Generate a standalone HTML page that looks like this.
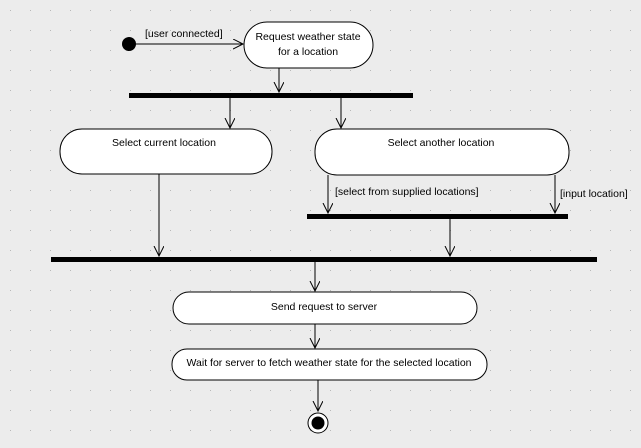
<!DOCTYPE html>
<html><head><style>body{margin:0;background:#ececec}</style></head><body>
<svg width="641" height="443" xmlns="http://www.w3.org/2000/svg" font-family="Liberation Sans, sans-serif" font-size="10.5">
<defs><pattern id="g" width="20" height="20" patternUnits="userSpaceOnUse"><rect x="10" y="10" width="1" height="1" fill="#b8b8b8"/></pattern>
<marker id="a" markerWidth="12" markerHeight="12" refX="10" refY="5" orient="auto" markerUnits="userSpaceOnUse"><path d="M0,0 L10,5 L0,10" fill="none" stroke="#000"/></marker></defs>
<rect width="641" height="443" fill="#ececec"/><rect width="641" height="443" fill="url(#g)"/>
<g stroke="#000" fill="none" stroke-width="1">
<line x1="135" y1="44" x2="243" y2="44" marker-end="url(#a)"/>
<line x1="279" y1="68" x2="279" y2="92" marker-end="url(#a)"/>
<line x1="230" y1="98" x2="230" y2="128" marker-end="url(#a)"/>
<line x1="341" y1="98" x2="341" y2="128" marker-end="url(#a)"/>
<line x1="328" y1="175" x2="328" y2="213" marker-end="url(#a)"/>
<line x1="555" y1="175" x2="555" y2="213" marker-end="url(#a)"/>
<line x1="450" y1="219" x2="450" y2="256" marker-end="url(#a)"/>
<line x1="159" y1="174" x2="159" y2="256" marker-end="url(#a)"/>
<line x1="315" y1="262" x2="315" y2="291" marker-end="url(#a)"/>
<line x1="315" y1="324" x2="315" y2="348" marker-end="url(#a)"/>
<line x1="318" y1="380" x2="318" y2="411" marker-end="url(#a)"/>
</g>
<circle cx="129" cy="44" r="7" fill="#000"/>
<g fill="#fff" stroke="#000">
<rect x="244" y="22" width="129" height="46" rx="23"/>
<rect x="60" y="129" width="212" height="45" rx="22"/>
<rect x="315" y="129" width="254" height="46" rx="22"/>
<rect x="173" y="292" width="304" height="32" rx="16"/>
<rect x="172" y="349" width="315" height="31" rx="15"/>
<circle cx="318" cy="423" r="10"/>
</g>
<circle cx="318" cy="423" r="6.5" fill="#000"/>
<g fill="#000">
<rect x="129" y="93" width="284" height="5"/>
<rect x="307" y="214" width="261" height="5"/>
<rect x="51" y="257" width="546" height="5"/>
</g>
<g fill="#000">
<text x="145" y="37">[user connected]</text>
<text x="308" y="40" text-anchor="middle">Request weather state</text>
<text x="308" y="55" text-anchor="middle">for a location</text>
<text x="164" y="146" text-anchor="middle">Select current location</text>
<text x="441" y="146" text-anchor="middle">Select another location</text>
<text x="335" y="195">[select from supplied locations]</text>
<text x="560" y="197">[input location]</text>
<text x="324" y="310" text-anchor="middle">Send request to server</text>
<text x="329" y="366" text-anchor="middle">Wait for server to fetch weather state for the selected location</text>
</g>
</svg>
</body></html>
